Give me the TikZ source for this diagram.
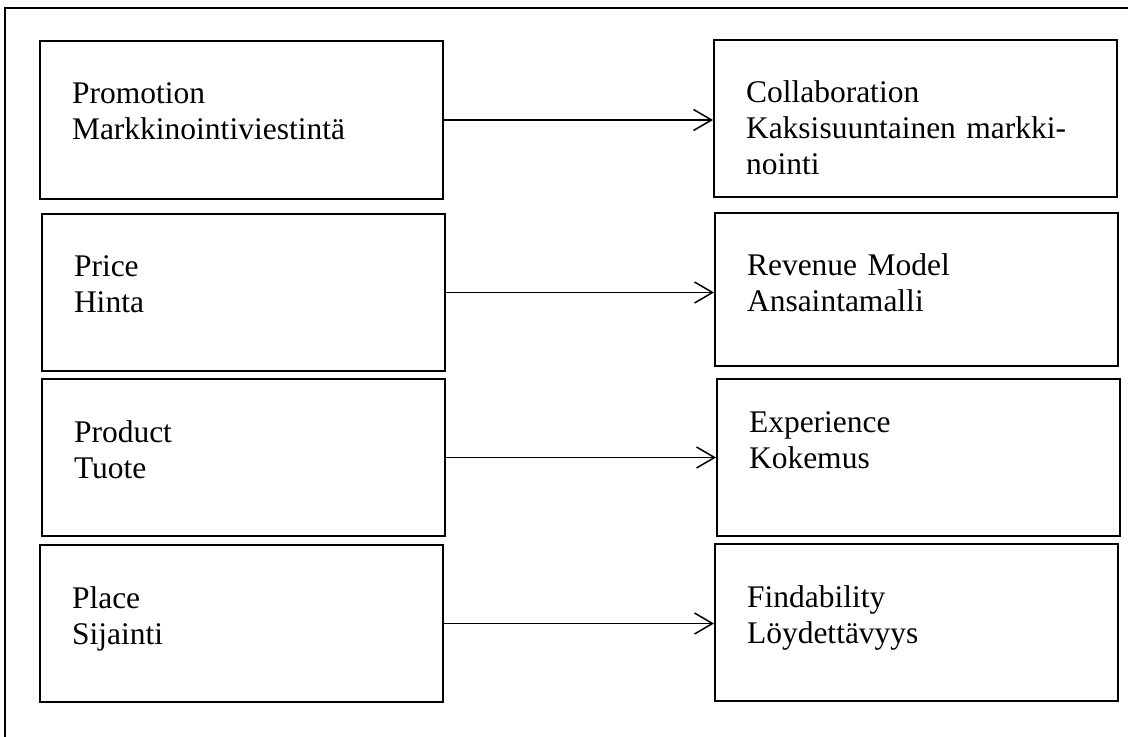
\documentclass[tikz,border=0pt]{standalone}
\usepackage{fontspec}
\setmainfont{Liberation Serif}
\usepackage{tikz}
\usetikzlibrary{arrows.meta}

\begin{document}
\begin{tikzpicture}[x=0.5pt,y=-0.5pt,line cap=rect,line join=miter,
  cellbox/.style={draw,line width=1pt,anchor=north west,align=left,
    inner xsep=16pt,inner ysep=0pt,text width=169.5pt,
    text height=31.5pt,text depth=#1,font=\fontsize{15.75}{18}\selectfont},
  cellbox/.default=47pt,
  flow/.style={-{Straight Barb[length=9pt,width=10.5pt,line width=0.75pt]},line width=0.75pt}]
\clip (0,0) rectangle (1128,737);
% outer frame, cut at the right and bottom edges
\draw[line width=1.3pt] (5,8) rectangle (1160,770);
% 4P
\node[cellbox=47.5pt] (promo) at (39,40) {Promotion\\Markkinointiviestintä};
\node[cellbox] (price) at (41,213) {Price\\Hinta};
\node[cellbox] (product) at (41,378) {Product\\Tuote};
\node[cellbox] (place) at (39,544) {Place\\Sijainti};
% digital counterparts
\node[cellbox] (collab) at (713,39) {Collaboration\\Kaksisuuntainen markki-\\nointi};
\node[cellbox=45pt] (revenue) at (714,212) {Revenue Model\\Ansaintamalli};
\node[cellbox=52pt,text height=26.5pt] (exper) at (716,378) {Experience\\Kokemus};
\node[cellbox] (findab) at (714,543) {Findability\\Löydettävyys};
\foreach \a/\b in {promo/collab,price/revenue,product/exper,place/findab}
  \draw[flow] (\a.east) -- (\a.east -| \b.west);
\end{tikzpicture}
\end{document}
